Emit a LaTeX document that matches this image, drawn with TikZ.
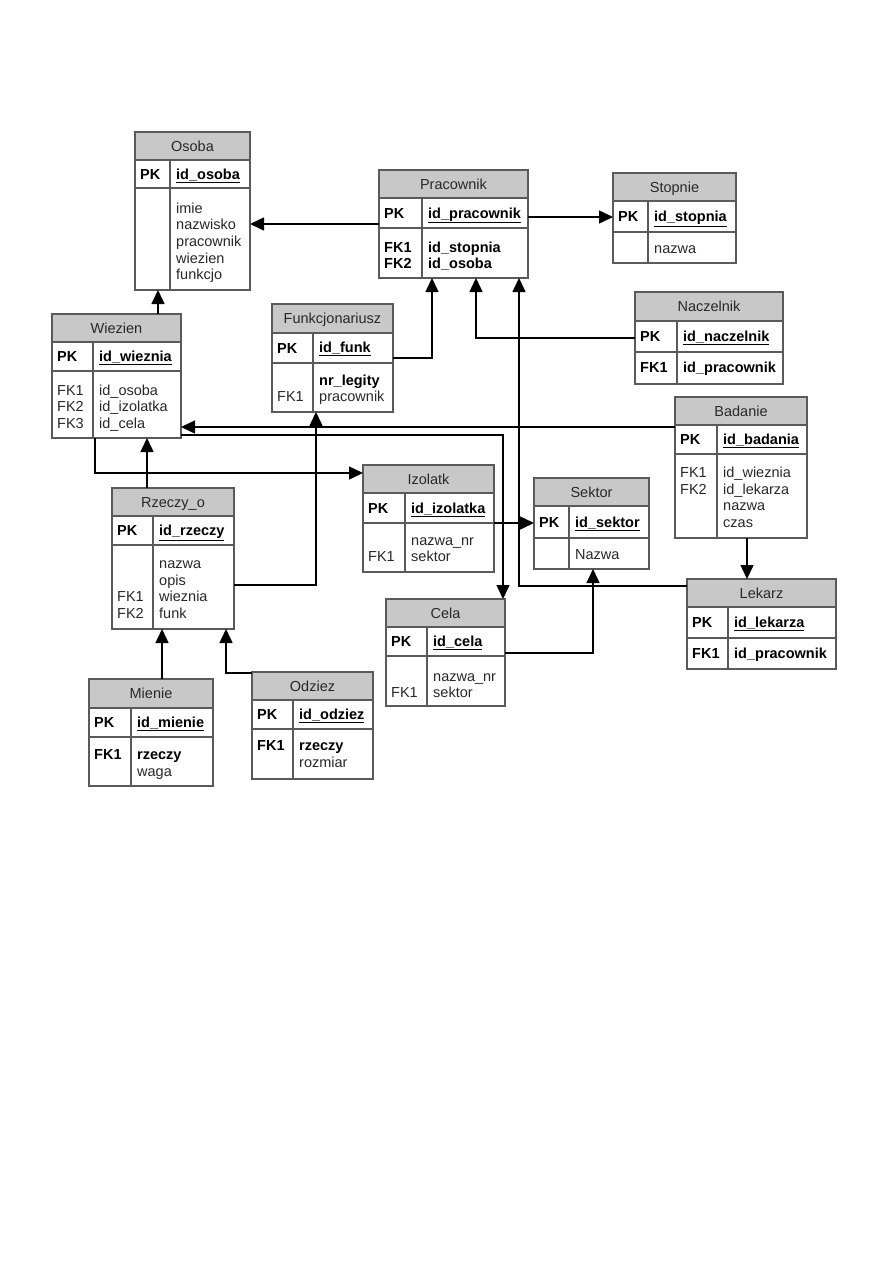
\documentclass[tikz,border=0pt]{standalone}
\usepackage{fontspec}
\setmainfont{Liberation Sans}
\usetikzlibrary{arrows.meta,fit}
\definecolor{hdr}{RGB}{200,200,200}
\definecolor{edge}{RGB}{90,90,90}
\definecolor{txt}{RGB}{40,40,40}
\tikzset{
  hdrfill/.style={fill=hdr},
  sepline/.style={draw=edge,line width=1.2pt},
  tblbox/.style={draw=edge,line width=1.2pt,inner sep=0pt,outer sep=0pt,rectangle},
  ttl/.style={anchor=base,inner sep=0pt,text=txt,font=\fontsize{14.5}{16.7}\selectfont},
  fld/.style={anchor=base west,inner sep=0pt,text=txt,font=\fontsize{14.5}{16.7}\selectfont},
  bfld/.style={anchor=base west,inner sep=0pt,text=black,font=\fontsize{14.5}{16.7}\selectfont\bfseries},
  conn/.style={draw=black,line width=1.5pt,-{Triangle[length=14pt,width=13pt]}},
}
% name, left, top, right, divider, title bottom, pk bottom, bottom, title
\newcommand\erbox[9]{%
  \coordinate (#1-nw) at (#2,#3);
  \coordinate (#1-se) at (#4,#8);
  \fill[hdrfill] (#2,#3) rectangle (#4,#6);
  \draw[sepline] (#2,#6) -- (#4,#6) (#2,#7) -- (#4,#7) (#5,#6) -- (#5,#8);
  \node[tblbox,fit=(#1-nw)(#1-se)] (#1) {};
  \node[ttl] (#1-title) at ({(#2+#4)/2},{(#3+#6)/2+5}) {#9};
  \node[bfld] (#1-pk) at ({#2+5},{(#6+#7)/2+5}) {PK};
}
\begin{document}
\begin{tikzpicture}[x=1pt,y=-1pt]
\fill[white] (0,0) rectangle (893,1263);
\useasboundingbox (0,0) rectangle (893,1263);

% ---------- tables ----------
\erbox{osoba}{135}{132}{250}{170}{160}{188}{290}{Osoba}
\node[bfld] (osoba-f) at (176,179) {\underline{id\_osoba}};
\node[fld] (osoba-b1) at (176,213) {imie};
\node[fld] (osoba-b2) at (176,229.7) {nazwisko};
\node[fld] (osoba-b3) at (176,246.4) {pracownik};
\node[fld] (osoba-b4) at (176,263.1) {wiezien};
\node[fld] (osoba-b5) at (176,279.8) {funkcjo};

\erbox{prac}{379}{170}{528}{422}{198}{228}{278}{Pracownik}
\node[bfld] (prac-f) at (428,218) {\underline{id\_pracownik}};
\node[bfld] (prac-l1) at (384,252) {FK1};
\node[bfld] (prac-l2) at (384,268.7) {FK2};
\node[bfld] (prac-b1) at (428,252) {id\_stopnia};
\node[bfld] (prac-b2) at (428,268.7) {id\_osoba};

\erbox{stopnie}{613}{173}{736}{648}{201}{232}{263}{Stopnie}
\node[bfld] (stopnie-f) at (654,221.5) {\underline{id\_stopnia}};
\node[fld] (stopnie-b1) at (654,253) {nazwa};

\erbox{nacz}{635}{292}{783}{677}{321}{352}{384}{Naczelnik}
\node[bfld] (nacz-f) at (683,341.5) {\underline{id\_naczelnik}};
\node[bfld] (nacz-l1) at (640,372.5) {FK1};
\node[bfld] (nacz-b1) at (683,372.5) {id\_pracownik};

\erbox{funk}{272}{304}{393}{313}{333}{363}{412}{Funkcjonariusz}
\node[bfld] (funk-f) at (319,352.5) {\underline{id\_funk}};
\node[bfld] (funk-b1) at (319,385) {nr\_legity};
\node[fld] (funk-b2) at (319,401.7) {pracownik};
\node[fld] (funk-l2) at (277,401.7) {FK1};

\erbox{wiezien}{52}{314}{181}{93}{342}{371}{438}{Wiezien}
\node[bfld] (wiezien-f) at (99,361) {\underline{id\_wieznia}};
\node[fld] (wiezien-l1) at (57,395) {FK1};
\node[fld] (wiezien-l2) at (57,411.7) {FK2};
\node[fld] (wiezien-l3) at (57,428.4) {FK3};
\node[fld] (wiezien-b1) at (99,395) {id\_osoba};
\node[fld] (wiezien-b2) at (99,411.7) {id\_izolatka};
\node[fld] (wiezien-b3) at (99,428.4) {id\_cela};

\erbox{badanie}{675}{397}{807}{717}{425}{454}{538}{Badanie}
\node[bfld] (badanie-f) at (723,444) {\underline{id\_badania}};
\node[fld] (badanie-l1) at (680,477.3) {FK1};
\node[fld] (badanie-l2) at (680,494) {FK2};
\node[fld] (badanie-b1) at (723,477.3) {id\_wieznia};
\node[fld] (badanie-b2) at (723,494) {id\_lekarza};
\node[fld] (badanie-b3) at (723,510.7) {nazwa};
\node[fld] (badanie-b4) at (723,527.4) {czas};

\erbox{izolatk}{363}{465}{494}{405}{493}{523}{572}{Izolatk}
\node[bfld] (izolatk-f) at (411,513) {\underline{id\_izolatka}};
\node[fld] (izolatk-b1) at (411,545) {nazwa\_nr};
\node[fld] (izolatk-b2) at (411,561.7) {sektor};
\node[fld] (izolatk-l2) at (368,561.7) {FK1};

\erbox{sektor}{534}{478}{649}{569}{506}{538}{569}{Sektor}
\node[bfld] (sektor-f) at (575,527) {\underline{id\_sektor}};
\node[fld] (sektor-b1) at (575,559) {Nazwa};

\erbox{rzeczy}{112}{488}{234}{153}{516}{545}{629}{Rzeczy\_o}
\node[bfld] (rzeczy-f) at (159,535.5) {\underline{id\_rzeczy}};
\node[fld] (rzeczy-b1) at (159,568.3) {nazwa};
\node[fld] (rzeczy-b2) at (159,585) {opis};
\node[fld] (rzeczy-b3) at (159,601.7) {wieznia};
\node[fld] (rzeczy-b4) at (159,618.4) {funk};
\node[fld] (rzeczy-l3) at (117,601.7) {FK1};
\node[fld] (rzeczy-l4) at (117,618.4) {FK2};

\erbox{cela}{386}{599}{505}{427}{627}{656}{706}{Cela}
\node[bfld] (cela-f) at (433,646.5) {\underline{id\_cela}};
\node[fld] (cela-b1) at (433,681) {nazwa\_nr};
\node[fld] (cela-b2) at (433,697.7) {sektor};
\node[fld] (cela-l2) at (391,697.7) {FK1};

\erbox{lekarz}{687}{579}{836}{728}{607}{638}{669}{Lekarz}
\node[bfld] (lekarz-f) at (734,627.5) {\underline{id\_lekarza}};
\node[bfld] (lekarz-l1) at (692,658.5) {FK1};
\node[bfld] (lekarz-b1) at (734,658.5) {id\_pracownik};

\erbox{mienie}{89}{679}{213}{131}{708}{737}{786}{Mienie}
\node[bfld] (mienie-f) at (137,727.5) {\underline{id\_mienie}};
\node[bfld] (mienie-l1) at (94,759.3) {FK1};
\node[bfld] (mienie-b1) at (137,759.3) {rzeczy};
\node[fld] (mienie-b2) at (137,776) {waga};

\erbox{odziez}{252}{672}{373}{293}{700}{729}{779}{Odziez}
\node[bfld] (odziez-f) at (299,719.5) {\underline{id\_odziez}};
\node[bfld] (odziez-l1) at (257,750.7) {FK1};
\node[bfld] (odziez-b1) at (299,750.7) {rzeczy};
\node[fld] (odziez-b2) at (299,767.4) {rozmiar};

% ---------- connectors ----------
\draw[conn] (prac.west) -- (prac.west -| osoba.east);
\draw[conn] (prac.east |- 0,217) -- (stopnie.west |- 0,217);
\draw[conn] (funk.east |- 0,358) -| (prac.south -| 432,0);
\draw[conn] (nacz.west |- 0,338) -| (prac.south -| 476,0);
\draw[conn] (lekarz.west |- 0,586) -| (prac.south -| 519,0);
\draw[conn] (wiezien.north -| 158,0) -- (osoba.south -| 158,0);
\draw[conn] (badanie.west |- 0,427) -- (wiezien.east |- 0,427);
\draw[conn] (wiezien.east |- 0,435) -| (cela.north -| 503,0);
\draw[conn] (wiezien.south -| 95,0) |- (izolatk.west |- 0,473);
\draw[conn] (rzeczy.north -| 147,0) -- (wiezien.south -| 147,0);
\draw[conn] (rzeczy.east |- 0,585) -| (funk.south -| 316,0);
\draw[conn] (izolatk.east |- 0,523) -- (sektor.west |- 0,523);
\draw[conn] (cela.east |- 0,653) -| (sektor.south -| 593,0);
\draw[conn] (badanie.south -| 747,0) -- (lekarz.north -| 747,0);
\draw[conn] (mienie.north -| 162,0) -- (rzeczy.south -| 162,0);
\draw[conn] (odziez.west |- 0,673) -| (rzeczy.south -| 226,0);
\end{tikzpicture}
\end{document}
